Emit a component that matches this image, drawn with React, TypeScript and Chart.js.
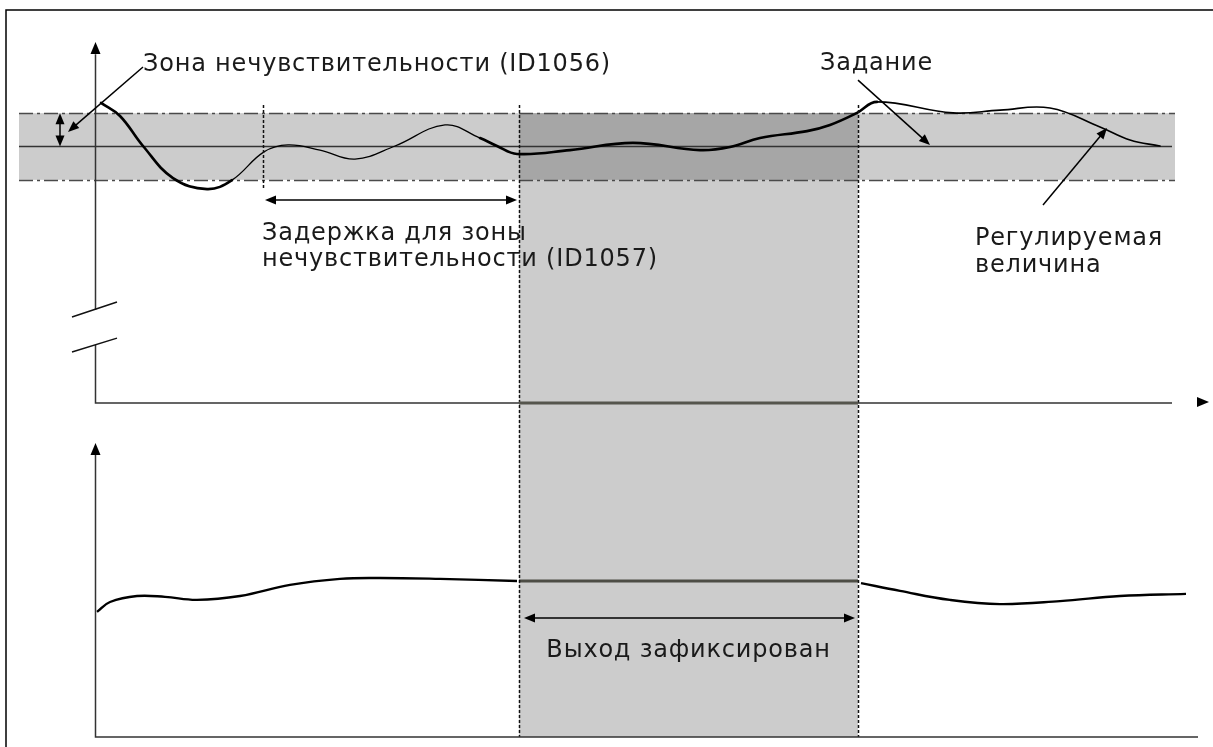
import React, { useEffect, useRef } from "react";
import { Chart, registerables } from "chart.js";

Chart.register(...registerables);

// ---- Data (time units on x, process value / output on y) ----
// Controlled variable (Регулируемая величина), top panel
const pvTime = [0.6, 2.5, 4.8, 7.8, 11.2, 13.7, 16.9, 19.3, 22.5, 26.0, 30.0, 35.0, 38.5, 40.2, 42.2, 47.5, 53.8, 60.5, 63.5, 66.5, 71.2, 73.5, 76.2, 78.2, 85.8, 90.5, 95.5, 100.5, 103.5, 106.5];
const pvValue = [11.7, 11.19, 10.02, 8.77, 8.34, 8.69, 9.79, 10.06, 9.86, 9.51, 10.02, 10.84, 10.33, 10.02, 9.71, 9.86, 10.14, 9.86, 9.98, 10.33, 10.6, 10.84, 11.31, 11.74, 11.31, 11.42, 11.5, 10.76, 10.25, 10.02];

// Controller output, bottom panel (before hold / after hold)
const outTimeBefore = [0.2, 1.5, 4.2, 7.0, 10.2, 14.5, 19.5, 24.5, 28.5, 34.5, 42.2];
const outValueBefore = [41.7, 45.0, 47.0, 46.7, 45.7, 47.0, 50.7, 52.7, 53.0, 52.7, 52.0];
const outTimeAfter = [76.6, 80.5, 85.5, 90.5, 96.5, 102.5, 109.1];
const outValueAfter = [51.3, 48.7, 45.7, 44.3, 45.3, 47.0, 47.7];

// Reference and dead zone
const SETPOINT = 10;
const DEADBAND = 1.3;
const HOLD_START = 42.4;
const HOLD_END = 76.3;
const HOLD_VALUE = 52;
const DELAY_START = 16.8;

// Labels
const LABEL_DEADBAND = "Зона нечувствительности (ID1056)";
const LABEL_SETPOINT = "Задание";
const LABEL_DELAY = ["Задержка для зоны", "нечувствительности (ID1057)"];
const LABEL_PV = ["Регулируемая", "величина"];
const LABEL_HOLD = "Выход зафиксирован";

// ---- Layout constants (in scale units) ----
const X_MIN = -9.5, X_MAX = 111.8;
const YT_MIN = -13.411, YT_MAX = 15.712;
const YB_MIN = -3.333, YB_MAX = 245.667;
const BAND_T0 = -7.6, BAND_T1 = 108, SP_T1 = 107.7;
const FONT = '24px "DejaVu Sans", Verdana, sans-serif';

const toPts = (xs: number[], ys: number[]) => xs.map((x, i) => ({ x, y: ys[i] }));

function arrowHead(ctx: CanvasRenderingContext2D, fx: number, fy: number, tx: number, ty: number, len = 11, half = 4.5) {
  const a = Math.atan2(ty - fy, tx - fx);
  ctx.beginPath();
  ctx.moveTo(tx, ty);
  ctx.lineTo(tx - len * Math.cos(a) + half * Math.sin(a), ty - len * Math.sin(a) - half * Math.cos(a));
  ctx.lineTo(tx - len * Math.cos(a) - half * Math.sin(a), ty - len * Math.sin(a) + half * Math.cos(a));
  ctx.closePath();
  ctx.fill();
}

function arrowLine(ctx: CanvasRenderingContext2D, x1: number, y1: number, x2: number, y2: number, both: boolean) {
  const a = Math.atan2(y2 - y1, x2 - x1);
  ctx.beginPath();
  ctx.moveTo(x1 + (both ? 8 * Math.cos(a) : 0), y1 + (both ? 8 * Math.sin(a) : 0));
  ctx.lineTo(x2 - 8 * Math.cos(a), y2 - 8 * Math.sin(a));
  ctx.stroke();
  arrowHead(ctx, x1, y1, x2, y2);
  if (both) arrowHead(ctx, x2, y2, x1, y1);
}

const diagramPlugin = {
  id: "diagram",
  beforeDatasetsDraw(chart: any) {
    const ctx: CanvasRenderingContext2D = chart.ctx;
    const X = (v: number) => chart.scales.x.getPixelForValue(v);
    const YT = (v: number) => chart.scales.yTop.getPixelForValue(v);
    const YB = (v: number) => chart.scales.yBot.getPixelForValue(v);
    ctx.save();
    const bt = YT(SETPOINT + DEADBAND), bb = YT(SETPOINT - DEADBAND);
    ctx.fillStyle = "#cccccc";
    ctx.fillRect(X(BAND_T0), bt, X(BAND_T1) - X(BAND_T0), bb - bt);
    ctx.fillRect(X(HOLD_START), bb, X(HOLD_END) - X(HOLD_START), YB(0) - bb);
    ctx.fillStyle = "#a6a6a6";
    ctx.fillRect(X(HOLD_START), bt, X(HOLD_END) - X(HOLD_START), bb - bt);

    // dash-dot band edges
    ctx.strokeStyle = "#4a4a4a";
    ctx.lineWidth = 1.6;
    ctx.setLineDash([14, 4, 3, 4]);
    [bt, bb].forEach((y) => {
      ctx.beginPath();
      ctx.moveTo(X(BAND_T0), Math.round(y) + 0.5);
      ctx.lineTo(X(BAND_T1), Math.round(y) + 0.5);
      ctx.stroke();
    });
    ctx.setLineDash([]);
    // setpoint line
    ctx.strokeStyle = "#333333";
    ctx.lineWidth = 1.5;
    ctx.beginPath();
    ctx.moveTo(X(BAND_T0), YT(SETPOINT));
    ctx.lineTo(X(SP_T1), YT(SETPOINT));
    ctx.stroke();
    ctx.restore();
  },
  afterDatasetsDraw(chart: any) {
    const ctx: CanvasRenderingContext2D = chart.ctx;
    const X = (v: number) => chart.scales.x.getPixelForValue(v);
    const YT = (v: number) => chart.scales.yTop.getPixelForValue(v);
    const YB = (v: number) => chart.scales.yBot.getPixelForValue(v);
    const area = chart.chartArea;
    ctx.save();

    // outer frame (top + left)
    ctx.strokeStyle = "#000";
    ctx.lineWidth = 1.5;
    ctx.beginPath();
    ctx.moveTo(area.right, area.top + 10);
    ctx.lineTo(area.left + 6, area.top + 10);
    ctx.lineTo(area.left + 6, area.bottom);
    ctx.stroke();

    // vertical dashed lines of hold window
    ctx.strokeStyle = "#111";
    ctx.lineWidth = 1.5;
    ctx.setLineDash([3, 2]);
    [HOLD_START, HOLD_END].forEach((t) => {
      ctx.beginPath();
      ctx.moveTo(Math.round(X(t)) + 0.5, YT(11.62));
      ctx.lineTo(Math.round(X(t)) + 0.5, YB(0));
      ctx.stroke();
    });
    ctx.beginPath();
    ctx.moveTo(Math.round(X(DELAY_START)) + 0.5, YT(11.62));
    ctx.lineTo(Math.round(X(DELAY_START)) + 0.5, YT(8.3));
    ctx.stroke();
    ctx.setLineDash([]);

    // axes
    ctx.strokeStyle = "#333";
    ctx.fillStyle = "#000";
    ctx.lineWidth = 1.5;
    const x0 = Math.round(X(0)) + 0.5;
    // top y axis with break
    ctx.beginPath();
    ctx.moveTo(x0, YT(13.6));
    ctx.lineTo(x0, YT(3.63));
    ctx.moveTo(x0, YT(2.26));
    ctx.lineTo(x0, YT(0));
    ctx.lineTo(X(107.7), YT(0));
    ctx.stroke();
    arrowHead(ctx, x0, YT(10), x0, YT(14.07), 12, 5);
    // break marks
    ctx.strokeStyle = "#111";
    ctx.beginPath();
    ctx.moveTo(X(-2.3), YT(3.35));
    ctx.lineTo(X(2.2), YT(3.94));
    ctx.moveTo(X(-2.3), YT(1.99));
    ctx.lineTo(X(2.2), YT(2.53));
    ctx.stroke();
    // top x axis arrow (detached)
    arrowHead(ctx, X(100), YT(0.04), X(111.4), YT(0.04), 12, 5);
    // thick held segment of top axis
    ctx.strokeStyle = "#55554d";
    ctx.lineWidth = 3;
    ctx.beginPath();
    ctx.moveTo(X(HOLD_START), YT(0));
    ctx.lineTo(X(HOLD_END), YT(0));
    ctx.stroke();

    // bottom axes
    ctx.strokeStyle = "#333";
    ctx.lineWidth = 1.5;
    ctx.beginPath();
    ctx.moveTo(x0, YB(94));
    ctx.lineTo(x0, YB(0));
    ctx.lineTo(X(110.3), YB(0));
    ctx.stroke();
    arrowHead(ctx, x0, YB(50), x0, YB(98), 12, 5);

    // annotation arrows
    ctx.strokeStyle = "#000";
    ctx.fillStyle = "#000";
    ctx.lineWidth = 1.5;
    arrowLine(ctx, X(4.8), YT(13.1), X(-2.7), YT(10.57), false);
    arrowLine(ctx, X(-3.5), YT(SETPOINT), X(-3.5), YT(SETPOINT + DEADBAND), true);
    arrowLine(ctx, X(17.0), YT(7.91), X(42.2), YT(7.91), true);
    arrowLine(ctx, X(76.3), YT(12.59), X(83.5), YT(10.06), false);
    arrowLine(ctx, X(94.8), YT(7.72), X(101.2), YT(10.72), false);
    arrowLine(ctx, X(42.9), YB(39.67), X(76.0), YB(39.67), true);

    // texts
    ctx.font = FONT;
    (ctx as any).letterSpacing = "0.8px";
    ctx.fillStyle = "#1a1a1a";
    ctx.textBaseline = "alphabetic";
    ctx.textAlign = "left";
    ctx.fillText(LABEL_DEADBAND, X(4.8), YT(12.94));
    ctx.fillText(LABEL_SETPOINT, X(72.5), YT(12.98));
    ctx.fillText(LABEL_DELAY[0], X(16.7), YT(6.35));
    ctx.fillText(LABEL_DELAY[1], X(16.7), YT(5.34));
    ctx.fillText(LABEL_PV[0], X(88.0), YT(6.16));
    ctx.fillText(LABEL_PV[1], X(88.0), YT(5.11));
    ctx.textAlign = "center";
    ctx.fillText(LABEL_HOLD, X((HOLD_START + HOLD_END) / 2), YB(26.67));
    ctx.restore();
  },
};

export default function App() {
  const ref = useRef<HTMLCanvasElement>(null);
  useEffect(() => {
    if (!ref.current) return;
    const widthFor = (t: number) => (t < 13 ? 2.6 : t < 38 ? 1.3 : t < 78 ? 2.6 : 1.6);
    const chart = new Chart(ref.current, {
      type: "line",
      data: {
        datasets: [
          {
            data: toPts(pvTime, pvValue),
            yAxisID: "yTop",
            borderColor: "#000",
            borderWidth: 2,
            pointRadius: 0,
            tension: 0.4,
            borderCapStyle: "round",
            segment: { borderWidth: (c: any) => widthFor(c.p0.parsed.x) },
          } as any,
          {
            data: toPts(outTimeBefore, outValueBefore),
            yAxisID: "yBot",
            borderColor: "#000",
            borderWidth: 2.4,
            pointRadius: 0,
            tension: 0.4,
          },
          {
            data: [
              { x: HOLD_START, y: HOLD_VALUE },
              { x: HOLD_END, y: HOLD_VALUE },
            ],
            yAxisID: "yBot",
            borderColor: "#4d4d45",
            borderWidth: 3,
            pointRadius: 0,
          },
          {
            data: toPts(outTimeAfter, outValueAfter),
            yAxisID: "yBot",
            borderColor: "#000",
            borderWidth: 2.4,
            pointRadius: 0,
            tension: 0.4,
          },
        ],
      },
      options: {
        animation: false,
        responsive: false,
        devicePixelRatio: 1,
        layout: { padding: 0 },
        plugins: { legend: { display: false }, tooltip: { enabled: false } },
        events: [],
        scales: {
          x: { type: "linear", min: X_MIN, max: X_MAX, display: false },
          yTop: { type: "linear", position: "left", min: YT_MIN, max: YT_MAX, display: false },
          yBot: { type: "linear", position: "left", min: YB_MIN, max: YB_MAX, display: false },
        },
      },
      plugins: [diagramPlugin],
    });
    return () => chart.destroy();
  }, []);
  return (
    <div style={{ position: "absolute", left: 0, top: 0, width: 1213, height: 747, background: "#fff" }}>
      <canvas ref={ref} width={1213} height={747} style={{ display: "block" }} />
    </div>
  );
}
